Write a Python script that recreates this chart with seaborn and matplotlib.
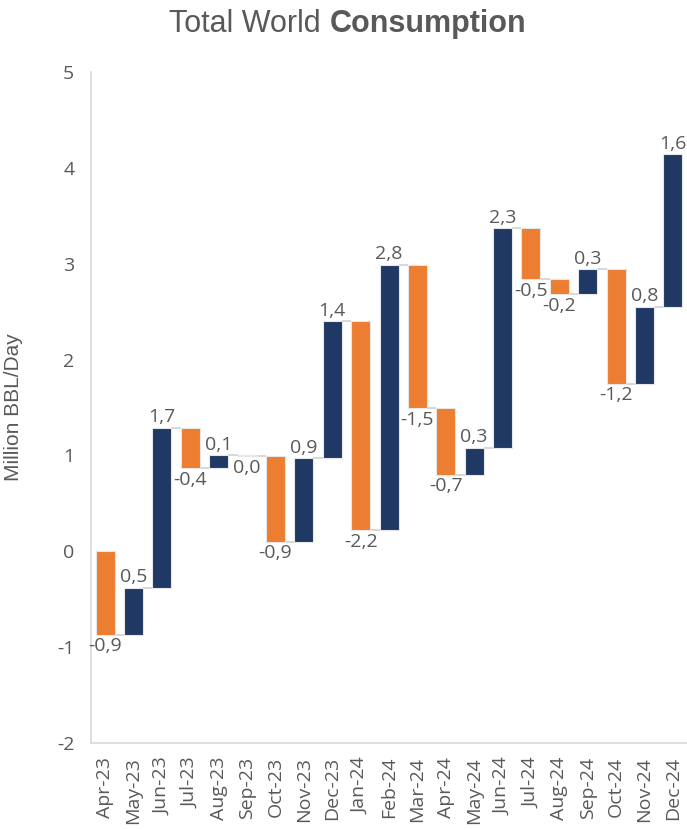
import matplotlib
matplotlib.use("Agg")
import matplotlib.pyplot as plt
from matplotlib import font_manager
import numpy as np
import pandas as pd
import seaborn as sns

# Monthly change in total world oil consumption (million barrels per day)
months = ["Apr-23", "May-23", "Jun-23", "Jul-23", "Aug-23", "Sep-23", "Oct-23",
          "Nov-23", "Dec-23", "Jan-24", "Feb-24", "Mar-24", "Apr-24", "May-24",
          "Jun-24", "Jul-24", "Aug-24", "Sep-24", "Oct-24", "Nov-24", "Dec-24"]
changes = [-0.87, 0.49, 1.67, -0.42, 0.13, -0.01, -0.89, 0.87, 1.43, -2.18,
           2.77, -1.50, -0.69, 0.28, 2.29, -0.53, -0.16, 0.26, -1.19, 0.80, 1.59]
y_ticks = [-2, -1, 0, 1, 2, 3, 4, 5]

ORANGE = "#ED7D31"
NAVY = "#203864"
TEXT = "#595959"
CONNECTOR = "#D4D4D4"
SPINE = "#D9D9D9"
BAR_W = 0.67

installed = {f.name for f in font_manager.fontManager.ttflist}
NARROW = "Liberation Sans Narrow" if "Liberation Sans Narrow" in installed else "Liberation Sans"

ends = np.cumsum(changes)
starts = ends - np.array(changes)
df = pd.DataFrame({"month": months, "change": changes, "start": starts})

sns.set_theme(style="white")
plt.rcParams["font.family"] = ["Open Sans", "DejaVu Sans"]

fig = plt.figure(figsize=(6.87, 8.30), dpi=100)
ax = fig.add_axes([0.1325, 0.1048, 0.8675, 0.8085])

# floating bars: each bar starts at the previous running total
sns.barplot(data=df, x="month", y="change", bottom=df["start"].to_numpy(),
            width=BAR_W, color=NAVY, edgecolor="#E6E6E6", linewidth=0.8,
            errorbar=None, ax=ax, zorder=3)
for patch, c in zip(ax.patches, changes):
    patch.set_facecolor(ORANGE if c < 0 else NAVY)

# connectors between consecutive bars
xs = np.arange(len(months))
ax.hlines(ends[:-1], xs[:-1] + BAR_W / 2, xs[1:] - BAR_W / 2,
          color=CONNECTOR, linewidth=1.3, zorder=2)

# value labels
for i, (c, s, e) in enumerate(zip(changes, starts, ends)):
    txt = f"{round(c, 1) + 0.0:.1f}".replace(".", ",")
    if c >= 0:
        ax.annotate(txt, (i, max(s, e)), xytext=(0, 1), textcoords="offset points",
                    ha="center", va="bottom", fontsize=14, color=TEXT)
    else:
        ax.annotate(txt, (i, min(s, e)), xytext=(0, -2), textcoords="offset points",
                    ha="center", va="top", fontsize=14, color=TEXT)

ax.set_ylim(-2, 5)
ax.set_xlim(-0.5, len(months) - 0.5)
ax.set_yticks(y_ticks)
ax.set_yticklabels([str(t) for t in y_ticks])
ax.tick_params(axis="y", length=0, pad=12, labelsize=14, labelcolor=TEXT)
ax.tick_params(axis="x", length=0, pad=10, labelsize=14, labelcolor=TEXT)
plt.setp(ax.get_xticklabels(), rotation=90)
ax.set_xlabel("")
ax.set_ylabel("Million BBL/Day", fontsize=15, color=TEXT, family=NARROW)
ax.yaxis.set_label_coords(-0.114, 0.5)

for side in ("top", "right"):
    ax.spines[side].set_visible(False)
for side in ("left", "bottom"):
    ax.spines[side].set_color(SPINE)
    ax.spines[side].set_linewidth(1.2)

# title in two weights
renderer = fig.canvas.get_renderer()
t1 = fig.text(0, 0.971, "Total World ", fontsize=22, color=TEXT, family=NARROW,
              va="center", ha="left")
t2 = fig.text(0, 0.971, "Consumption", fontsize=22, color=TEXT, family=NARROW,
              fontweight="bold", va="center", ha="left")
w1 = t1.get_window_extent(renderer).width / fig.bbox.width
w2 = t2.get_window_extent(renderer).width / fig.bbox.width
x0 = 0.506 - (w1 + w2) / 2
t1.set_x(x0)
t2.set_x(x0 + w1)

fig.savefig("out.png", dpi=100)
